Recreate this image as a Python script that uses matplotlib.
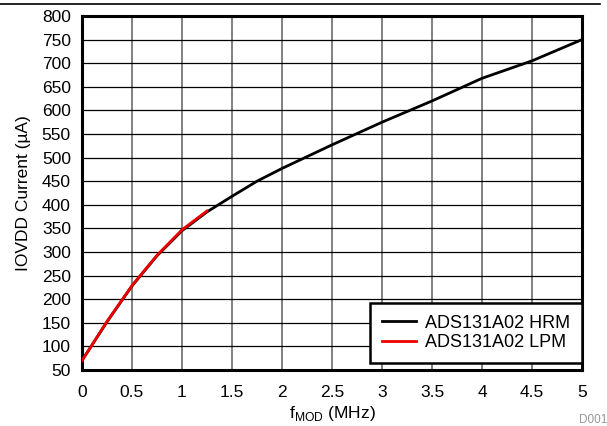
import matplotlib
matplotlib.use("Agg")
import matplotlib.pyplot as plt
from matplotlib.lines import Line2D

plt.rcParams['font.family'] = ['Liberation Sans', 'DejaVu Sans']

hrm_x = [0, 0.25, 0.5, 0.75, 1.0, 1.25, 1.5, 1.75, 2.0, 2.5, 3.0, 3.5, 4.0, 4.5, 5.0]
hrm_y = [70, 152, 228, 292, 345, 385, 418, 450, 477, 527, 575, 620, 668, 705, 750]
lpm_x = [0, 0.25, 0.5, 0.75, 1.0, 1.25]
lpm_y = [70, 153, 229, 293, 347, 387]

xticks = [0, 0.5, 1, 1.5, 2, 2.5, 3, 3.5, 4, 4.5, 5]
xtick_labels = ['0', '0.5', '1', '1.5', '2', '2.5', '3', '3.5', '4', '4.5', '5']
yticks = list(range(50, 801, 50))

fig = plt.figure(figsize=(6.07, 4.26), dpi=100)
ax = fig.add_axes([82/607, 56/426, 500/607, 354/426])

ax.plot(hrm_x, hrm_y, color='black', lw=2.0, label='ADS131A02 HRM', zorder=3)
ax.plot(lpm_x, lpm_y, color='#ee0000', lw=2.0, label='ADS131A02 LPM', zorder=4)

ax.set_xlim(0, 5)
ax.set_ylim(50, 800)
ax.set_xticks(xticks)
ax.set_xticklabels(xtick_labels)
ax.set_yticks(yticks)
ax.tick_params(axis='y', length=0, labelsize=12.5, pad=8)
ax.tick_params(axis='x', length=0, labelsize=12.5, pad=11)

ax.yaxis.grid(True, color='black', lw=0.9)
ax.xaxis.grid(True, color='#808080', lw=1.4)
ax.set_axisbelow(True)
for s in ax.spines.values():
    s.set_linewidth(2.2)
    s.set_color('black')

ax.set_xlabel('f$_{\\mathregular{MOD}}$ (MHz)', fontsize=12.5, labelpad=3)
ax.set_ylabel('IOVDD Current (\u00b5A)', fontsize=12.5, labelpad=8)

leg = ax.legend(loc='lower right', fontsize=13, frameon=True, fancybox=False,
                borderaxespad=0, handlelength=1.9, handletextpad=0.5,
                borderpad=0.65, labelspacing=0.15, bbox_to_anchor=(1.0, 7/354))
leg.get_frame().set_edgecolor('black')
leg.get_frame().set_linewidth(1.8)
leg.get_frame().set_alpha(1)

fig.text(607/607, 1 - 420/426, 'D001', color='#999999', fontsize=8.5, ha='right', va='center')
fig.add_artist(Line2D([0, 600/607], [1 - 3.5/426, 1 - 3.5/426], color='black', lw=1.2,
                      transform=fig.transFigure))

fig.savefig('out.png', dpi=100)
